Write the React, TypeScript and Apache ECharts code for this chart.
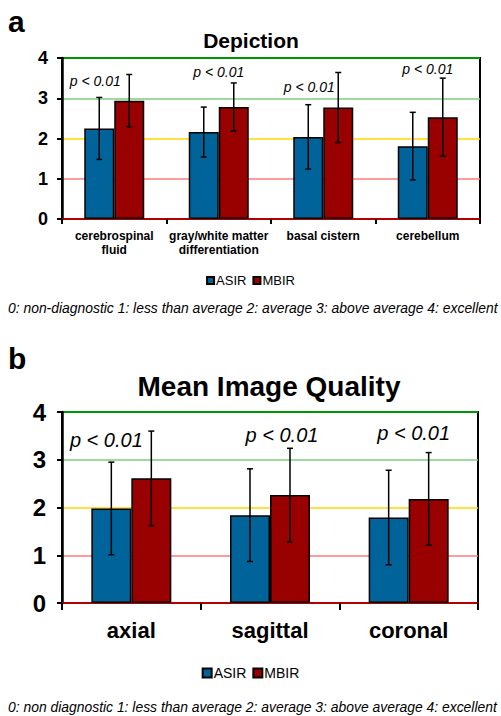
import React, { useEffect, useRef } from "react";
import * as echarts from "echarts";

const categoriesA = ["cerebrospinal\nfluid", "gray/white matter\ndifferentiation", "basal cistern", "cerebellum"];
const asirA = [2.25, 2.16, 2.04, 1.81];
const asirErrA = [0.77, 0.62, 0.8, 0.84];
const mbirA = [2.94, 2.78, 2.77, 2.53];
const mbirErrA = [0.65, 0.6, 0.87, 0.97];
const pPosA = [3.43, 3.65, 3.28, 3.73];
const pOffA = [-19, 0, -14, 0];

const categoriesB = ["axial", "sagittal", "coronal"];
const asirB = [1.98, 1.84, 1.79];
const asirErrB = [0.97, 0.97, 0.99];
const mbirB = [2.61, 2.26, 2.18];
const mbirErrB = [0.99, 0.98, 0.97];
const pPosB = [3.41, 3.51, 3.56];
const pOffB = [-25, 12, 5];

const yTicks = [0, 1, 2, 3, 4];
const pText = "p < 0.01";

const FONT = "'Liberation Sans', Arial, sans-serif";
const ASIR_COLOR = "#00639a";
const MBIR_COLOR = "#990000";
const lineColors = ["#c00000", "#ff7b7b", "#ffd700", "#7fcc7f", "#00c800"];

function errSeries(name: string, gridIdx: number, vals: number[], errs: number[], shift: number, cap: number) {
  return {
    type: "custom",
    name,
    xAxisIndex: gridIdx,
    yAxisIndex: gridIdx,
    z: 5,
    data: vals.map((v, i) => [i, v, errs[i]]),
    encode: { x: 0, y: 1 },
    renderItem: (params: any, api: any) => {
      const x = api.value(0);
      const v = api.value(1);
      const e = api.value(2);
      const hi = api.coord([x, v + e]);
      const lo = api.coord([x, v - e]);
      const cx = hi[0] + shift;
      const st = { stroke: "#000", lineWidth: 1.5 };
      return {
        type: "group",
        children: [
          { type: "line", shape: { x1: cx, y1: hi[1], x2: cx, y2: lo[1] }, style: st },
          { type: "line", shape: { x1: cx - cap, y1: hi[1], x2: cx + cap, y2: hi[1] }, style: st },
          { type: "line", shape: { x1: cx - cap, y1: lo[1], x2: cx + cap, y2: lo[1] }, style: st },
        ],
      };
    },
  };
}

function pSeries(gridIdx: number, pos: number[], offs: number[], size: number) {
  return {
    type: "custom",
    name: "p" + gridIdx,
    xAxisIndex: gridIdx,
    yAxisIndex: gridIdx,
    z: 6,
    data: pos.map((y, i) => [i, y, offs[i]]),
    encode: { x: 0, y: 1 },
    renderItem: (params: any, api: any) => {
      const c = api.coord([api.value(0), api.value(1)]);
      return {
        type: "text",
        x: c[0] + api.value(2),
        y: c[1],
        style: {
          text: pText,
          font: `italic ${size}px ${FONT}`,
          fill: "#000",
          align: "center",
          verticalAlign: "middle",
        },
      };
    },
  };
}

export default function App() {
  const ref = useRef<HTMLDivElement>(null);
  useEffect(() => {
    if (!ref.current) return;
    const chart = echarts.init(ref.current, null, { renderer: "svg" });
    const yAxisCommon = (size: number, margin: number) => ({
      type: "value",
      min: 0,
      max: 4,
      interval: 1,
      axisLine: { show: true, lineStyle: { color: "#000", width: 2.5 } },
      axisTick: { show: true, length: 5, lineStyle: { color: "#000", width: 2 } },
      axisLabel: {
        fontFamily: FONT,
        fontWeight: "bold",
        fontSize: size,
        color: "#000",
        margin,
        formatter: (v: number) => String(yTicks[v] ?? v),
      },
      splitLine: { show: true, lineStyle: { color: lineColors, width: 1.5 } },
    });
    const option: any = {
      animation: false,
      backgroundColor: "#fff",
      grid: [
        { left: 62, right: 21, top: 58, bottom: 497, show: true, borderColor: "#000", borderWidth: 2, backgroundColor: "transparent" },
        { left: 62, right: 23, top: 412, bottom: 113, show: true, borderColor: "#000", borderWidth: 2, backgroundColor: "transparent" },
      ],
      xAxis: [
        {
          type: "category",
          gridIndex: 0,
          data: categoriesA,
          axisLine: { show: true, lineStyle: { color: "#c00000", width: 1.5 } },
          axisTick: { show: true, length: 5, lineStyle: { color: "#000", width: 2 } },
          axisLabel: { fontFamily: FONT, fontWeight: "bold", fontSize: 12, color: "#000", margin: 10, lineHeight: 14, interval: 0 },
        },
        {
          type: "category",
          gridIndex: 1,
          data: categoriesB,
          axisLine: { show: true, lineStyle: { color: "#c00000", width: 1.5 } },
          axisTick: { show: true, length: 7, lineStyle: { color: "#000", width: 2 } },
          axisLabel: { fontFamily: FONT, fontWeight: "bold", fontSize: 22, color: "#000", margin: 16, interval: 0 },
        },
      ],
      yAxis: [
        { gridIndex: 0, ...yAxisCommon(18, 14) },
        { gridIndex: 1, ...yAxisCommon(24, 16) },
      ],
      legend: [
        {
          data: ["ASIR", "MBIR"],
          top: 269,
          left: "center",
          icon: "rect",
          itemWidth: 7,
          itemHeight: 7,
          itemGap: 6,
          selectedMode: false,
          textStyle: { fontFamily: FONT, fontSize: 13, color: "#000", padding: [0, 0, 0, -3] },
        },
        {
          data: ["ASIR", "MBIR"],
          top: 661,
          left: "center",
          icon: "rect",
          itemWidth: 9,
          itemHeight: 9,
          itemGap: 6,
          selectedMode: false,
          textStyle: { fontFamily: FONT, fontSize: 14, color: "#000", padding: [0, 0, 0, -3] },
        },
      ],
      series: [
        { type: "bar", name: "ASIR", xAxisIndex: 0, yAxisIndex: 0, data: asirA, barWidth: 30, barGap: "0%", itemStyle: { color: ASIR_COLOR, borderColor: "#000", borderWidth: 1.5 } },
        { type: "bar", name: "MBIR", xAxisIndex: 0, yAxisIndex: 0, data: mbirA, barWidth: 30, barGap: "0%", itemStyle: { color: MBIR_COLOR, borderColor: "#000", borderWidth: 1.5 } },
        errSeries("errA1", 0, asirA, asirErrA, -15, 3),
        errSeries("errA2", 0, mbirA, mbirErrA, 15, 3),
        pSeries(0, pPosA, pOffA, 14),
        { type: "bar", name: "ASIR", xAxisIndex: 1, yAxisIndex: 1, data: asirB, barWidth: 40, barGap: "0%", itemStyle: { color: ASIR_COLOR, borderColor: "#000", borderWidth: 1.5 } },
        { type: "bar", name: "MBIR", xAxisIndex: 1, yAxisIndex: 1, data: mbirB, barWidth: 40, barGap: "0%", itemStyle: { color: MBIR_COLOR, borderColor: "#000", borderWidth: 1.5 } },
        errSeries("errB1", 1, asirB, asirErrB, -20, 3),
        errSeries("errB2", 1, mbirB, mbirErrB, 20, 3),
        pSeries(1, pPosB, pOffB, 20),
      ],
      graphic: [
        { type: "text", left: 8, top: 6, style: { text: "a", font: `bold 30px ${FONT}`, fill: "#000" } },
        { type: "text", x: 251, y: 40, style: { text: "Depiction", font: `bold 21px ${FONT}`, fill: "#000", textAlign: "center", textVerticalAlign: "middle" } },
        { type: "text", x: 8, y: 308, style: { text: "0: non-diagnostic 1: less than average 2: average 3: above average 4: excellent", font: `italic 13.9px ${FONT}`, fill: "#000", textVerticalAlign: "middle" } },
        { type: "text", left: 8, top: 343, style: { text: "b", font: `bold 30px ${FONT}`, fill: "#000" } },
        { type: "text", x: 269, y: 386, style: { text: "Mean Image Quality", font: `bold 28px ${FONT}`, fill: "#000", textAlign: "center", textVerticalAlign: "middle" } },
        { type: "text", x: 8, y: 707, style: { text: "0: non diagnostic 1: less than average 2: average 3: above average 4: excellent", font: `italic 13.9px ${FONT}`, fill: "#000", textVerticalAlign: "middle" } },
      ],
    };
    chart.setOption(option);
    return () => chart.dispose();
  }, []);
  return <div ref={ref} style={{ position: "fixed", left: 0, top: 0, width: 501, height: 716 }} />;
}
